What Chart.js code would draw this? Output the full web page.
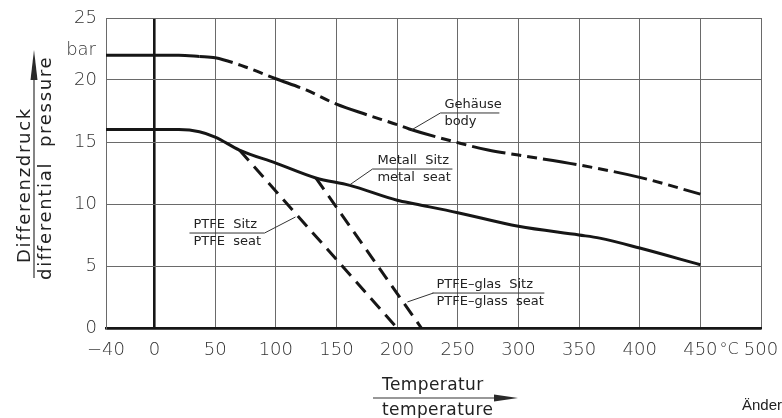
<!DOCTYPE html>
<html>
<head>
<meta charset="utf-8">
<script src="https://cdn.jsdelivr.net/npm/chart.js"></script>
<style>
    html, body { margin: 0; padding: 0; background: #fff; }
</style>
</head>
<body>
<canvas id="chart" width="782" height="418"></canvas>
<script>
// Axis ticks
const xTicks = [-40, 0, 50, 100, 150, 200, 250, 300, 350, 400, 450, 500];
const yTicks = [0, 5, 10, 15, 20, 25];

// Gehäuse / body
const bodyTemp = [-40, 20, 37, 50, 75, 100, 125, 150, 175, 200, 210, 250, 275, 300, 350, 400, 450];
const bodyPressure = [22, 22, 21.9, 21.8, 21.05, 20.1, 19.2, 18.05, 17.2, 16.4, 16.05, 14.95, 14.35, 13.95, 13.15, 12.15, 10.8];

// Metall Sitz / metal seat
const metalTemp = [-40, 20, 37, 50, 70, 100, 133, 161, 200, 215, 250, 300, 350, 367, 400, 450];
const metalPressure = [16, 16, 15.83, 15.4, 14.35, 13.3, 12.1, 11.5, 10.3, 10.0, 9.3, 8.2, 7.5, 7.25, 6.45, 5.1];

// PTFE Sitz / PTFE seat
const ptfeTemp = [70, 200];
const ptfePressure = [14.35, 0];

// PTFE-glas Sitz / PTFE-glass seat
const glassTemp = [133, 220];
const glassPressure = [12.1, 0];

// curve labels: two lines of text over/under a rule, with a leader to the curve
const curveLabels = [
    { top: 'Gehäuse', bottom: 'body', x: 239, y: 17.34, ruleTo: 284.3, leader: [235.7, 211.8, 15.97] },
    { top: 'Metall  Sitz', bottom: 'metal  seat', x: 183.8, y: 12.82, ruleTo: 245.6, leader: [179.7, 160.7, 11.53] },
    { top: 'PTFE  Sitz', bottom: 'PTFE  seat', x: 32.1, y: 7.66, ruleTo: 90.7, leader: [90.7, 116.2, 8.95] },
    { top: 'PTFE–glas  Sitz', bottom: 'PTFE–glass  seat', x: 232.4, y: 2.82, ruleTo: 321.4, leader: [229.9, 208.5, 2.1] }
];

function points(xs, ys) {
    return xs.map((x, i) => ({ x: x, y: ys[i] }));
}

const ink = '#161616';
const gridColor = '#6a6a6a';

const annotate = {
    id: 'annotate',
    afterDatasetsDraw(chart) {
        const ctx = chart.ctx;
        const area = chart.chartArea;
        const sx = chart.scales.x, sy = chart.scales.y;
        const px = v => sx.getPixelForValue(v);
        const py = v => sy.getPixelForValue(v);
        ctx.save();

        // curve labels
        ctx.font = '13px "DejaVu Sans"';
        ctx.fillStyle = '#222';
        ctx.strokeStyle = '#333';
        ctx.lineWidth = 1;
        ctx.textBaseline = 'middle';
        ctx.textAlign = 'left';
        curveLabels.forEach(l => {
            const ruleY = py(l.y);
            ctx.fillText(l.top, px(l.x), ruleY - 8.5);
            ctx.fillText(l.bottom, px(l.x), ruleY + 9);
            ctx.beginPath();
            ctx.moveTo(Math.min(px(l.x) - 4, px(l.leader[0])), ruleY);
            ctx.lineTo(px(l.ruleTo), ruleY);
            ctx.moveTo(px(l.leader[0]), ruleY);
            ctx.lineTo(px(l.leader[1]), py(l.leader[2]));
            ctx.stroke();
        });

        // bar and °C units
        ctx.font = '200 18px "DejaVu Sans"';
        ctx.fillStyle = '#333';
        ctx.textAlign = 'right';
        ctx.fillText('bar', area.left - 10, 50);
        ctx.font = '200 16px "DejaVu Sans"';
        ctx.textAlign = 'center';
        ctx.fillText('°C', (px(450) + px(500)) / 2 - 1.5, area.bottom + 22);

        // y axis title with arrow
        ctx.fillStyle = '#222';
        ctx.save();
        ctx.translate(34, 0);
        ctx.rotate(-Math.PI / 2);
        ctx.font = '18px "DejaVu Sans"';
        ctx.letterSpacing = '1.7px';
        ctx.textAlign = 'left';
        ctx.textBaseline = 'alphabetic';
        ctx.fillText('Differenzdruck', -263, -4);
        ctx.fillText('differential  pressure', -280, 17);
        ctx.restore();
        ctx.strokeStyle = '#333';
        ctx.lineWidth = 1.2;
        ctx.beginPath();
        ctx.moveTo(34, 278);
        ctx.lineTo(34, 72);
        ctx.stroke();
        ctx.fillStyle = '#2a2a2a';
        ctx.beginPath();
        ctx.moveTo(34, 50);
        ctx.lineTo(37.5, 80);
        ctx.lineTo(30.5, 80);
        ctx.closePath();
        ctx.fill();

        // x axis title with arrow
        ctx.fillStyle = '#222';
        ctx.font = '17px "DejaVu Sans"';
        ctx.letterSpacing = '0.4px';
        ctx.textAlign = 'left';
        ctx.textBaseline = 'middle';
        ctx.fillText('Temperatur', 382, 386);
        ctx.fillText('temperature', 382, 411);
        ctx.letterSpacing = '0px';
        ctx.beginPath();
        ctx.moveTo(373, 398);
        ctx.lineTo(500, 398);
        ctx.stroke();
        ctx.fillStyle = '#2a2a2a';
        ctx.beginPath();
        ctx.moveTo(518, 398);
        ctx.lineTo(494, 394.5);
        ctx.lineTo(494, 401.5);
        ctx.closePath();
        ctx.fill();

        // cut-off note at bottom right
        ctx.fillStyle = '#222';
        ctx.font = '15px "Liberation Sans"';
        ctx.fillText('Änder', 742, 406);
        ctx.restore();
    }
};

new Chart(document.getElementById('chart'), {
    type: 'line',
    data: {
        datasets: [{
            label: 'Gehäuse / body',
            data: points(bodyTemp, bodyPressure),
            borderColor: ink,
            borderWidth: 3,
            cubicInterpolationMode: 'monotone',
            segment: {
                borderDash: c => c.p0.parsed.x >= 37 ? [34, 6, 10, 6, 10, 6] : undefined
            }
        }, {
            label: 'Metall Sitz / metal seat',
            data: points(metalTemp, metalPressure),
            borderColor: ink,
            borderWidth: 3,
            cubicInterpolationMode: 'monotone'
        }, {
            label: 'PTFE Sitz / PTFE seat',
            data: points(ptfeTemp, ptfePressure),
            borderColor: ink,
            borderWidth: 3,
            borderDash: [14, 8]
        }, {
            label: 'PTFE-glas Sitz / PTFE-glass seat',
            data: points(glassTemp, glassPressure),
            borderColor: ink,
            borderWidth: 3,
            borderDash: [14, 8]
        }]
    },
    options: {
        responsive: false,
        animation: false,
        layout: { padding: { left: 0, right: 21, top: 18, bottom: 0 } },
        elements: { point: { radius: 0 } },
        plugins: { legend: { display: false }, tooltip: { enabled: false } },
        scales: {
            x: {
                type: 'linear',
                min: -40,
                max: 500,
                afterBuildTicks: s => { s.ticks = xTicks.map(v => ({ value: v })); },
                afterFit: s => { s.height = 90; s.paddingLeft = 0; s.paddingRight = 0; },
                grid: {
                    drawTicks: false,
                    color: c => c.tick && c.tick.value === 0 ? ink : gridColor,
                    lineWidth: c => c.tick && c.tick.value === 0 ? 2.6 : 1
                },
                border: { color: ink, width: 2.6 },
                ticks: {
                    padding: 12,
                    color: '#333',
                    font: { family: 'DejaVu Sans', size: 18, weight: 200 },
                    maxRotation: 0,
                    callback: v => v < 0 ? '−' + Math.abs(v) : String(v)
                }
            },
            y: {
                min: 0,
                max: 25,
                afterBuildTicks: s => { s.ticks = yTicks.map(v => ({ value: v })); },
                afterFit: s => { s.width = 106; s.paddingTop = 0; s.paddingBottom = 0; },
                grid: {
                    drawTicks: false,
                    color: c => c.tick && c.tick.value === 0 ? ink : gridColor,
                    lineWidth: c => c.tick && c.tick.value === 0 ? 2.6 : 1
                },
                border: { color: gridColor, width: 1 },
                ticks: {
                    padding: 9,
                    color: '#333',
                    font: { family: 'DejaVu Sans', size: 18, weight: 200 }
                }
            }
        }
    },
    plugins: [annotate]
});
</script>
</body>
</html>
